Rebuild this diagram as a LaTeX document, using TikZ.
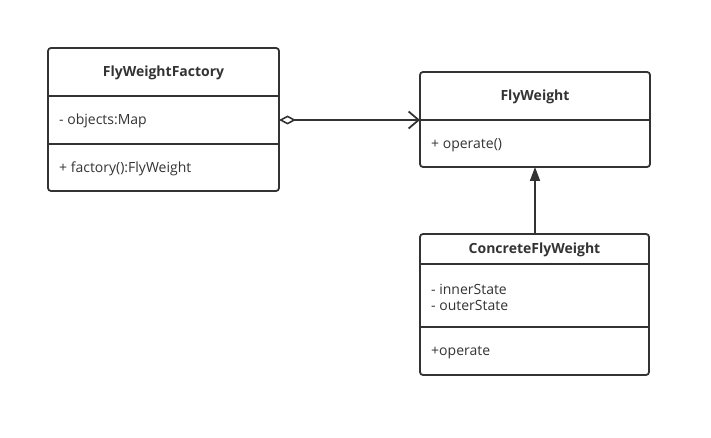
\documentclass[tikz,border=0pt]{standalone}
\usepackage{fontspec}
\setmainfont{Open Sans}
\usetikzlibrary{arrows.meta}
\definecolor{ink}{HTML}{333333}
\tikzset{
  box/.style={draw=ink, line width=1.8pt, rounded corners=3pt},
  sep/.style={draw=ink, line width=1.8pt},
  title/.style={font=\fontsize{14}{16}\selectfont\bfseries, text=ink, anchor=center, inner sep=0pt},
  member/.style={font=\fontsize{14}{16}\selectfont, text=ink, anchor=west, inner sep=0pt, align=left},
  conn/.style={draw=ink, line width=1.8pt}
}
\begin{document}
\begin{tikzpicture}[x=1pt,y=-1pt]
\useasboundingbox (0,0) rectangle (711,438);
% FlyWeightFactory
\draw[box] (48,48) rectangle (279,191);
\draw[sep] (48,96) -- (279,96);
\draw[sep] (48,144) -- (279,144);
\node[title] (fft) at (163.5,73) {FlyWeightFactory};
\node[member] (ffa) at (59,121) {- objects:Map};
\node[member] (ffm) at (59,169) {+ factory():FlyWeight};
\coordinate (ffr) at (279,120);
% FlyWeight
\draw[box] (420,72) rectangle (650,167);
\draw[sep] (420,120) -- (650,120);
\node[title] (fwt) at (535,97) {FlyWeight};
\node[member] (fwm) at (431,145) {+ operate()};
\coordinate (fwl) at (420,120);
\coordinate (fwb) at (535,167);
% ConcreteFlyWeight
\draw[box] (420,234) rectangle (649,375);
\draw[sep] (420,264) -- (649,264);
\draw[sep] (420,327) -- (649,327);
\node[title] (cft) at (534.5,250) {ConcreteFlyWeight};
\node[member] (cfa) at (431,297) {- innerState\\- outerState};
\node[member] (cfm) at (431,353) {+operate};
\coordinate (cft0) at (535,234);
% connectors
\draw[conn, {Diamond[open,length=17pt,width=9pt,line width=1.6pt]}-{Straight Barb[length=10pt,width=17pt,line width=1.8pt]}] (ffr) -- (fwl);
\draw[conn, -{Triangle[length=14pt,width=10pt]}] (cft0) -- (fwb);
\end{tikzpicture}
\end{document}
